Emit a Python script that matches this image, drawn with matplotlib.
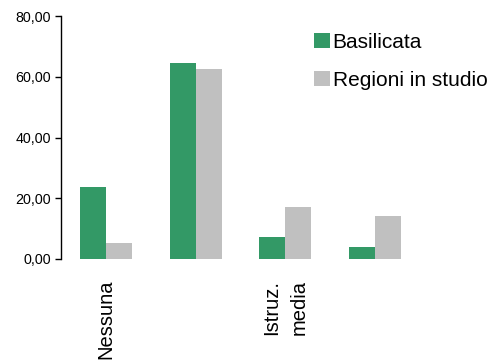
import matplotlib
matplotlib.use("Agg")
import matplotlib.pyplot as plt
import numpy as np

plt.rcParams['font.family'] = ['Liberation Sans', 'DejaVu Sans']

# Data
categories = ["Nessuna", "", "Istruz.\nmedia", ""]
basilicata = [23.6, 64.5, 7.2, 3.9]
regioni = [5.3, 62.5, 17.1, 14.1]
series_names = ["Basilicata", "Regioni in studio"]

green = "#339966"
gray = "#C0C0C0"

fig = plt.figure(figsize=(4.97, 3.62), dpi=100)
ax = fig.add_axes([61 / 497, 1 - 259 / 362, (420 - 61) / 497, (259 - 16) / 362])

x = np.arange(len(categories)) + 0.5
w = 0.29
ax.bar(x - w / 2, basilicata, width=w, color=green, label=series_names[0])
ax.bar(x + w / 2, regioni, width=w, color=gray, label=series_names[1])

ax.set_xlim(0, len(categories))
ax.set_ylim(0, 80)
ax.set_yticks([0, 20, 40, 60, 80])
ax.set_yticklabels(["0,00", "20,00", "40,00", "60,00", "80,00"], fontsize=10.3)
ax.tick_params(axis='y', length=4, width=1, pad=3)

ax.set_xticks(x)
ax.set_xticklabels(categories, rotation=90, fontsize=14.5, va='top', ha='center',
                   multialignment='left', linespacing=1.55)
ax.tick_params(axis='x', length=0, pad=15)

for s in ['top', 'right', 'bottom']:
    ax.spines[s].set_visible(False)
ax.spines['left'].set_linewidth(1)

ax.legend(loc='upper left', bbox_to_anchor=(314 / 497, 1 - 33 / 362),
          bbox_transform=fig.transFigure, frameon=False, fontsize=15,
          handlelength=0.75, handleheight=0.75, handletextpad=0.15,
          labelspacing=0.9, borderpad=0, borderaxespad=0)

fig.savefig("out.png", dpi=100)
